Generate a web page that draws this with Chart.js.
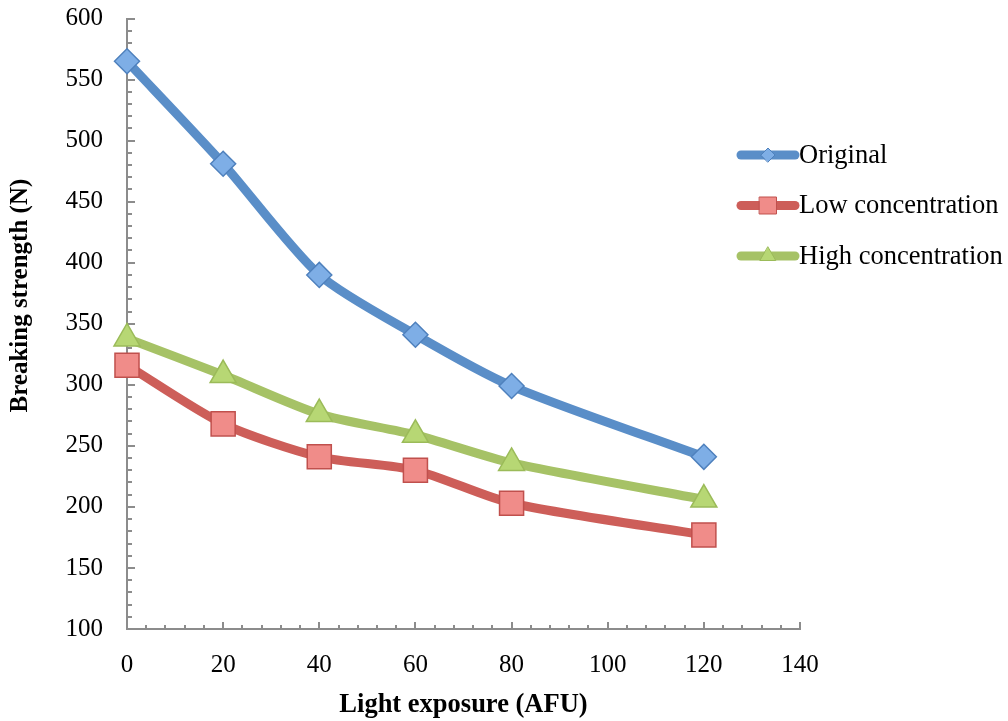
<!DOCTYPE html>
<html>
<head>
<meta charset="utf-8">
<title>Breaking strength vs light exposure</title>
<script src="https://cdn.jsdelivr.net/npm/chart.js@4/dist/chart.umd.min.js"></script>
<style>
  html, body { margin: 0; padding: 0; background: #ffffff; }
  #wrap { width: 1008px; height: 721px; }
</style>
</head>
<body>
<div id="wrap"><canvas id="strengthChart" width="1008" height="721"></canvas></div>
<script>
// ── Data ─────────────────────────────────────────────────────
const exposure = [0, 20, 40, 60, 80, 120];          // Light exposure (AFU)
const original = [565, 481, 390, 341, 299, 241];    // Breaking strength (N)
const lowConc  = [316, 268, 241, 230, 203, 177];
const highConc = [338, 308, 276, 259, 236, 206];

const seriesNames = ['Original', 'Low concentration', 'High concentration'];

// Axis ranges / tick steps
const X_MIN = 0,   X_MAX = 140, X_STEP = 20, X_MINOR = 4;
const Y_MIN = 100, Y_MAX = 600, Y_STEP = 50, Y_MINOR = 10;

const FONT = '"Liberation Serif", "Times New Roman", serif';
const AXIS_COLOR = '#8c8c8c';

const toPoints = vals => vals.map((v, i) => ({ x: exposure[i], y: v }));

// ── Inward tick marks (Excel style) ──────────────────────────
const axisTicks = {
    id: 'axisTicks',
    beforeDatasetsDraw(chart) {
        const { ctx, chartArea: a, scales: { x, y } } = chart;
        ctx.save();
        ctx.strokeStyle = AXIS_COLOR;
        ctx.lineWidth = 2;
        ctx.beginPath();
        for (let v = X_MIN; v <= X_MAX; v += X_MINOR) {
            const px = Math.round(x.getPixelForValue(v));
            const len = v % X_STEP === 0 ? 7 : 4;
            ctx.moveTo(px, a.bottom);
            ctx.lineTo(px, a.bottom - len);
        }
        for (let v = Y_MIN; v <= Y_MAX; v += Y_MINOR) {
            const py = Math.round(y.getPixelForValue(v));
            const len = v % Y_STEP === 0 ? 8 : 5;
            ctx.moveTo(a.left, py);
            ctx.lineTo(a.left + len, py);
        }
        ctx.stroke();
        ctx.restore();
    }
};

// ── Legend on the right, overlapping the plot edge ───────────
const sideLegend = {
    id: 'sideLegend',
    afterDraw(chart) {
        const ctx = chart.ctx;
        chart.data.datasets.forEach((ds, i) => {
            const yc = 155 + i * 50.5;
            ctx.save();
            ctx.strokeStyle = ds.borderColor;
            ctx.lineWidth = 9;
            ctx.lineCap = 'round';
            ctx.beginPath();
            ctx.moveTo(741, yc);
            ctx.lineTo(795, yc);
            ctx.stroke();

            ctx.fillStyle = ds.pointBackgroundColor;
            ctx.strokeStyle = ds.pointBorderColor;
            ctx.lineWidth = 1;
            Chart.helpers.drawPoint(ctx, {
                pointStyle: ds.pointStyle,
                radius: ds.legendRadius,
                rotation: 0,
                borderWidth: 1
            }, 768, yc);

            ctx.fillStyle = '#000000';
            ctx.font = '26.5px ' + FONT;
            ctx.textBaseline = 'middle';
            ctx.textAlign = 'left';
            ctx.fillText(ds.label, 799, yc + 1);
            ctx.restore();
        });
    }
};

new Chart(document.getElementById('strengthChart'), {
    type: 'line',
    data: {
        datasets: [
            {
                label: seriesNames[0],
                data: toPoints(original),
                borderColor: '#5a8ec8',
                pointStyle: 'rectRot',
                pointRadius: 12.5,
                legendRadius: 7,
                pointBackgroundColor: '#7eaee6',
                pointBorderColor: '#4f81bd'
            },
            {
                label: seriesNames[1],
                data: toPoints(lowConc),
                borderColor: '#cd5e59',
                pointStyle: 'rect',
                pointRadius: 17,
                legendRadius: 12,
                pointBackgroundColor: '#f08c89',
                pointBorderColor: '#c0504d'
            },
            {
                label: seriesNames[2],
                data: toPoints(highConc),
                borderColor: '#a6c266',
                pointStyle: 'triangle',
                pointRadius: 15,
                legendRadius: 9,
                pointBackgroundColor: '#b7d774',
                pointBorderColor: '#9bbb59'
            }
        ].map(d => Object.assign({
            borderWidth: 9,
            borderCapStyle: 'round',
            borderJoinStyle: 'round',
            tension: 0.25,
            pointBorderWidth: 1.5,
            pointHoverRadius: 14,
            clip: false
        }, d))
    },
    options: {
        responsive: false,
        animation: false,
        layout: { padding: { left: 0, right: 208, top: 16, bottom: 0 } },
        plugins: {
            legend: { display: false },
            tooltip: { enabled: false }
        },
        scales: {
            x: {
                type: 'linear',
                min: X_MIN,
                max: X_MAX,
                grid: { display: false, drawTicks: false },
                border: { display: true, color: AXIS_COLOR, width: 2 },
                ticks: {
                    stepSize: X_STEP,
                    padding: 21,
                    color: '#000000',
                    font: { family: FONT, size: 25 }
                },
                title: {
                    display: true,
                    text: 'Light exposure (AFU)',
                    color: '#000000',
                    font: { family: FONT, size: 26.5, weight: 'bold' },
                    padding: { top: 0, bottom: 0 }
                },
                afterFit: s => { s.height = 92; }
            },
            y: {
                type: 'linear',
                min: Y_MIN,
                max: Y_MAX,
                grid: { display: false, drawTicks: false },
                border: { display: true, color: AXIS_COLOR, width: 2 },
                ticks: {
                    stepSize: Y_STEP,
                    padding: 24,
                    color: '#000000',
                    font: { family: FONT, size: 25 }
                },
                title: {
                    display: true,
                    // leading spaces lift the title a little, as in the original
                    text: '         Breaking strength (N)',
                    color: '#000000',
                    font: { family: FONT, size: 25, weight: 'bold' },
                    padding: { top: 6, bottom: 0 }
                },
                afterFit: s => {
                    s.width = 127;
                    s.paddingTop = 0;     // let the "600" label overhang the top padding
                }
            }
        }
    },
    plugins: [axisTicks, sideLegend]
});
</script>
</body>
</html>
